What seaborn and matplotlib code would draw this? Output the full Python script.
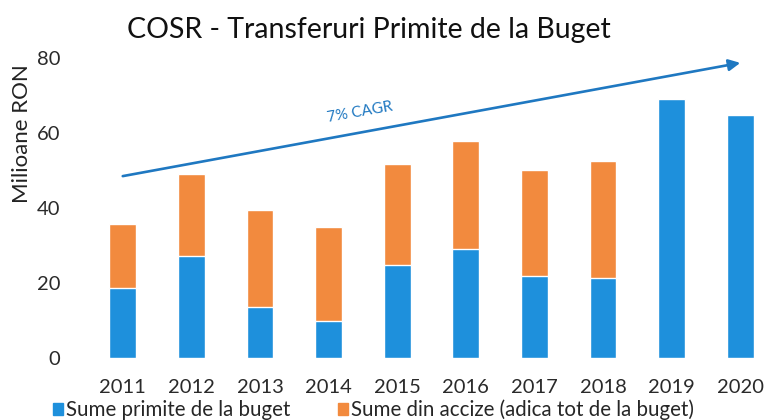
import numpy as np
import pandas as pd
import matplotlib
matplotlib.use("Agg")
import matplotlib.pyplot as plt
from matplotlib.patches import Patch
import seaborn as sns

# valori (milioane RON)
years = ["2011", "2012", "2013", "2014", "2015", "2016", "2017", "2018", "2019", "2020"]
buget = [18.7, 27.3, 13.5, 9.9, 24.8, 29.0, 22.0, 21.4, 69.2, 64.8]
accize = [17.0, 21.8, 26.0, 25.1, 26.9, 28.9, 28.1, 31.2, 0.0, 0.0]
cagr_start = 48.5
cagr_end = 78.7

BLUE = "#1E90DC"
ORANGE = "#F28A3E"
ARROW = "#1F78C1"

sns.set_style("white")
plt.rcParams["font.family"] = ["Lato", "DejaVu Sans"]

df = pd.DataFrame({"an": years, "buget": buget, "accize": accize})
df["total"] = df["buget"] + df["accize"]

fig = plt.figure(figsize=(7.65, 4.2), dpi=100)
ax = fig.add_axes([85 / 765, 62 / 420, 680 / 765, 300 / 420])

# total (portocaliu) dedesubt, apoi partea de la buget (albastru) peste
sns.barplot(data=df, x="an", y="total", color=ORANGE, width=0.39,
            saturation=1, ax=ax)
sns.barplot(data=df, x="an", y="buget", color=BLUE, width=0.39,
            saturation=1, ax=ax)

ax.set_xlim(-0.55, 9.36)
ax.set_ylim(0, 80)
ax.set_yticks([0, 20, 40, 60, 80])
ax.set_xlabel("")
ax.set_ylabel("")
ax.tick_params(axis="both", length=0, labelsize=14.5, colors="#2a2a2a")
ax.tick_params(axis="x", pad=15)
ax.tick_params(axis="y", pad=18)
sns.despine(ax=ax, left=True, bottom=True)

# sageata CAGR
ax.annotate("", xy=(9, cagr_end), xytext=(0, cagr_start),
            arrowprops=dict(arrowstyle="-|>", color=ARROW, lw=1.9,
                            mutation_scale=17, shrinkA=0, shrinkB=0),
            annotation_clip=False)
ax.text(3.45, 65.6, "7% CAGR", color=ARROW, fontsize=11, rotation=10,
        ha="center", va="center")

fig.text(369 / 765, 1 - 30 / 420, "COSR - Transferuri Primite de la Buget",
         ha="center", va="center", fontsize=20.5, color="#111111")
fig.text(22 / 765, 1 - 134 / 420, "Milioane RON", rotation=90,
         ha="center", va="center", fontsize=16, color="#222222")

handles = [Patch(color=BLUE, label="Sume primite de la buget"),
           Patch(color=ORANGE, label="Sume din accize (adica tot de la buget)")]
fig.legend(handles=handles, loc="center left", bbox_to_anchor=(53 / 765, 1 - 410 / 420),
           ncol=2, frameon=False, fontsize=14.8, handlelength=0.5, handleheight=0.55,
           handletextpad=0.15, columnspacing=2.3, borderaxespad=0, borderpad=0)

fig.savefig("out.png", dpi=100)
